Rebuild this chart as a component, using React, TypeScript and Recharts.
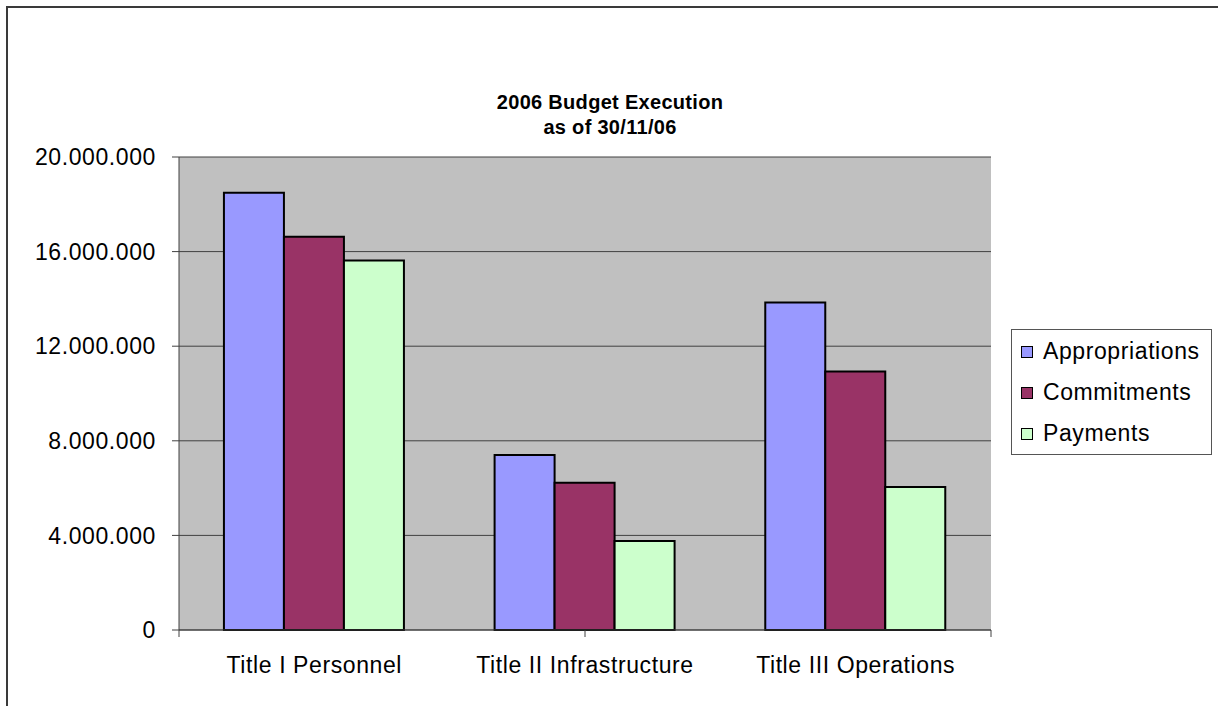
import React from 'react';
import { BarChart, Bar, XAxis, YAxis, CartesianGrid, ReferenceLine } from 'recharts';

const categories = ['Title I Personnel', 'Title II Infrastructure', 'Title III Operations'];
const appropriations = [18490000, 7400000, 13850000];
const commitments = [16630000, 6230000, 10930000];
const payments = [15620000, 3760000, 6050000];
const yTicks = [0, 4000000, 8000000, 12000000, 16000000, 20000000];
const edgeTicks = [0, 1, 2, 3];
const seriesNames = ['Appropriations', 'Commitments', 'Payments'];
const seriesColors = ['#9999FF', '#993366', '#CCFFCC'];
const titleLines = ['2006 Budget Execution', 'as of 30/11/06'];

const data = categories.map((name, i) => ({
  name,
  Appropriations: appropriations[i],
  Commitments: commitments[i],
  Payments: payments[i],
}));

const FONT = '"Liberation Sans", Arial, sans-serif';
const FS = 23;
const LS = 0.6;

const fmt = (v: number) => String(v).replace(/\B(?=(\d{3})+(?!\d))/g, '.');

export default function App() {
  return (
    <div style={{ position: 'absolute', left: 0, top: 0, width: 1218, height: 706, overflow: 'hidden', background: '#fff', fontFamily: FONT }}>
      <div style={{ position: 'absolute', left: 6, top: 6, width: 1400, height: 900, border: '2px solid #3a3a3a' }} />
      <div style={{ position: 'absolute', left: 0, top: 0 }}>
        <BarChart width={1218} height={706} data={data} margin={{ top: 157, right: 227, bottom: 0, left: 0 }} barCategoryGap="16.6%" barGap={0}>
          <CartesianGrid vertical={false} stroke="#404040" fill="#C0C0C0" xAxisId="b_cat" />
          <XAxis xAxisId="a_edge" type="number" domain={[0, 3]} ticks={edgeTicks} tickSize={7} height={1}
            stroke="#404040" tickFormatter={() => ''} allowDataOverflow />
          <XAxis xAxisId="b_cat" dataKey="name" axisLine={false} tickLine={false} tickSize={0} tickMargin={26} height={75}
            tick={{ fill: '#000', fontSize: FS, fontFamily: FONT, letterSpacing: LS }} interval={0} />
          <YAxis domain={[0, 20000000]} ticks={yTicks} width={179} tickSize={7} tickMargin={16} stroke="#404040"
            tickFormatter={fmt} tick={{ fill: '#000', fontSize: FS, fontFamily: FONT, letterSpacing: LS }} interval={0} />
          <ReferenceLine x={3} xAxisId="a_edge" stroke="#808080" strokeWidth={2} />
          {seriesNames.map((s, i) => (
            <Bar key={s} dataKey={s} xAxisId="b_cat" fill={seriesColors[i]} stroke="#000" strokeWidth={2} isAnimationActive={false} />
          ))}
        </BarChart>
      </div>
      <div style={{ position: 'absolute', left: 1011, top: 329, width: 201, height: 126, border: '1px solid #555', background: '#fff', boxSizing: 'border-box', paddingTop: 1 }}>
        {seriesNames.map((s, i) => (
          <div key={s} style={{ display: 'flex', alignItems: 'center', height: 41, paddingLeft: 9 }}>
            <span style={{ display: 'inline-block', width: 10, height: 10, background: seriesColors[i], border: '1.5px solid #000', marginRight: 10 }} />
            <span style={{ fontSize: FS, color: '#000', letterSpacing: LS }}>{s}</span>
          </div>
        ))}
      </div>
      <div style={{ position: 'absolute', left: 0, width: 1220, top: 90, textAlign: 'center', fontWeight: 'bold', fontSize: 20, lineHeight: '25px', color: '#000', letterSpacing: 0.3 }}>
        {titleLines.map((t) => (<div key={t}>{t}</div>))}
      </div>
    </div>
  );
}
